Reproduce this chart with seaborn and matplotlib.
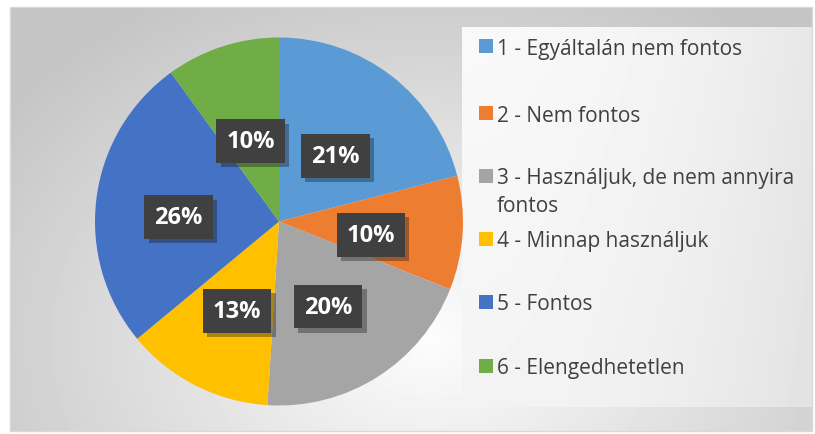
import numpy as np
import matplotlib
matplotlib.use("Agg")
import matplotlib.pyplot as plt
import matplotlib.patheffects as pe
from matplotlib.patches import Rectangle
import seaborn as sns

sns.set_style("white")
plt.rcParams['font.family'] = ['Open Sans', 'DejaVu Sans']

categories = ['1 - Egyáltalán nem fontos', '2 - Nem fontos',
              '3 - Használjuk, de nem annyira\nfontos', '4 - Minnap használjuk',
              '5 - Fontos', '6 - Elengedhetetlen']
values = [21, 10, 20, 13, 26, 10]
colors = ['#5B9BD5', '#ED7D31', '#A5A5A5', '#FFC000', '#4472C4', '#70AD47']

W, H = 815, 435
fig = plt.figure(figsize=(W / 100, H / 100), dpi=100)
fig.patch.set_facecolor('white')

# background with soft gray gradient, in pixel coordinates
bg = fig.add_axes([0, 0, 1, 1])
bg.set_xlim(0, W)
bg.set_ylim(H, 0)
bg.axis('off')
yy, xx = np.mgrid[8:432, 10:813]
d = np.sqrt(((xx - 430) / 480.0) ** 2 + ((yy - 340) / 360.0) ** 2)
shade = np.clip(0.99 - 0.2 * d, 0.77, 1.0)
bg.imshow(shade, cmap='gray', vmin=0, vmax=1, extent=(10, 813, 432, 8),
          aspect='auto', interpolation='bilinear')
yy2, xx2 = np.mgrid[28:408, 462:812]
box_shade = 0.975 - 0.07 * ((xx2 - 462) / 350.0) ** 2 - 0.02 * ((yy2 - 28) / 380.0)
bg.imshow(box_shade, cmap='gray', vmin=0, vmax=1, extent=(462, 812, 408, 28),
          aspect='auto', interpolation='bilinear')
bg.add_patch(Rectangle((10, 8), 802, 424, fill=False, edgecolor='#d9d9d9', lw=1))

# pie
ax = fig.add_axes([95 / W, (H - 407) / H, 368 / W, 369 / H])
wedges, texts, autotexts = ax.pie(
    values, colors=colors, startangle=90, counterclock=False,
    autopct='%1.0f%%', pctdistance=0.5,
    wedgeprops=dict(linewidth=0),
    textprops=dict(color='white', fontsize=17, fontweight='bold'))
ax.set_xlim(-1, 1)
ax.set_ylim(-1, 1)
ax.set_aspect('equal')
for i, t in enumerate(autotexts):
    x, y = t.get_position()
    if i == 4:
        x -= 0.05
    t.set_position((x, y - 0.04))
    t.set_bbox(dict(boxstyle='square,pad=0.42', facecolor='#404040', edgecolor='none'))
    t.get_bbox_patch().set_path_effects(
        [pe.SimplePatchShadow(offset=(3, -3), alpha=0.35), pe.Normal()])

# legend
ys = [47, 114, 177, 240, 303, 367]
for lab, col, y in zip(categories, colors, ys):
    bg.add_patch(Rectangle((479, y - 7), 14, 14, facecolor=col, edgecolor='none'))
    for i, line in enumerate(lab.split('\n')):
        bg.text(497, y + 2 + 28 * i, line, fontsize=15, color='#404040',
                va='center', ha='left')

fig.savefig('out.png', dpi=100)
